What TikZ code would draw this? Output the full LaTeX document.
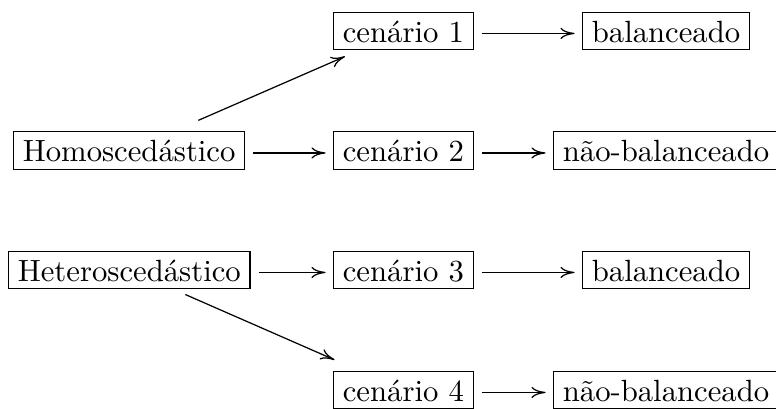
\documentclass[tikz,border=0pt]{standalone}
\usepackage{fontspec}
\usetikzlibrary{arrows.meta}
\begin{document}
\begin{tikzpicture}[x=0.3257pt,y=-0.3257pt,
  box/.style={draw,line width=0.4pt,rectangle,anchor=west,inner xsep=3pt,inner ysep=2.5pt,text height=7.2pt,text depth=0pt,font=\fontsize{10}{12}\selectfont},
  tip/.style={-{To[length=4.6pt,width=3.6pt]},line width=0.4pt},
  arr/.style={tip,shorten <=2.6pt,shorten >=2.4pt}]
\useasboundingbox (0,0) rectangle (776,408);
\node[box] (c1) at (333,31) {cenário 1};
\node[box] (b1) at (582,31) {balanceado};
\node[box] (homo) at (13,150.5) {Homoscedástico};
\node[box] (c2) at (333,150.5) {cenário 2};
\node[box] (nb2) at (553,150.5) {não-balanceado};
\node[box] (het) at (8,270) {Heteroscedástico};
\node[box] (c3) at (333,270) {cenário 3};
\node[box] (b3) at (582,270) {balanceado};
\node[box] (c4) at (333,390) {cenário 4};
\node[box] (nb4) at (553,390) {não-balanceado};
\draw[arr] ([yshift=-0.8pt]c1.east) -- ([yshift=-0.8pt]b1.west);
\draw[arr] ([yshift=-0.8pt]homo.east) -- ([yshift=-0.8pt]c2.west);
\draw[arr] ([yshift=-0.8pt]c2.east) -- ([yshift=-0.8pt]nb2.west);
\draw[arr] ([yshift=-0.8pt]het.east) -- ([yshift=-0.8pt]c3.west);
\draw[arr] ([yshift=-0.8pt]c3.east) -- ([yshift=-0.8pt]b3.west);
\draw[arr] ([yshift=-0.8pt]c4.east) -- ([yshift=-0.8pt]nb4.west);
\draw[tip,shorten <=8.8pt,shorten >=5pt] (homo) -- (c1);
\draw[tip,shorten <=4.2pt,shorten >=8.8pt] (het) -- (c4);
\end{tikzpicture}
\end{document}
